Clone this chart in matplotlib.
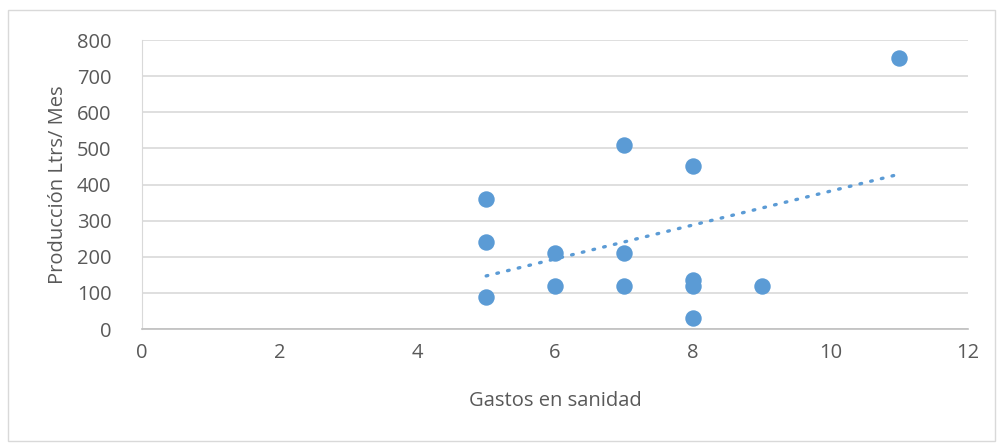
import numpy as np
import matplotlib
matplotlib.use("Agg")
import matplotlib.pyplot as plt
from matplotlib.patches import Rectangle

gastos = [5, 5, 5, 6, 6, 7, 7, 7, 8, 8, 8, 8, 9, 11]
produccion = [360, 240, 90, 210, 120, 510, 210, 120, 450, 135, 120, 30, 120, 750]
x_ticks = [0, 2, 4, 6, 8, 10, 12]
y_ticks = [0, 100, 200, 300, 400, 500, 600, 700, 800]

plt.rcParams['font.family'] = ['Open Sans', 'DejaVu Sans']
azul = '#5B9BD5'
gris_texto = '#595959'

fig = plt.figure(figsize=(10, 4.43), dpi=100)
fig.patches.append(Rectangle((0.008, 0.005), 0.987, 0.973, transform=fig.transFigure,
                             fill=False, edgecolor='#D9D9D9', linewidth=1))
ax = fig.add_axes([0.142, 0.2573, 0.826, 0.6524])

ax.scatter(gastos, produccion, s=140, color=azul, zorder=3, linewidths=0)

# linea de tendencia lineal
m, b = np.polyfit(gastos, produccion, 1)
xt = np.array([min(gastos), max(gastos)])
ax.plot(xt, m * xt + b, color=azul, linewidth=2.4, linestyle=(0, (0.5, 2.8)),
        dash_capstyle='round', zorder=2)

ax.set_xlim(0, 12)
ax.set_ylim(0, 800)
ax.set_xticks(x_ticks)
ax.set_yticks(y_ticks)
ax.grid(axis='y', color='#D9D9D9', linewidth=1.2)
ax.set_axisbelow(True)
for s in ['top', 'right']:
    ax.spines[s].set_visible(False)
ax.spines['left'].set_color('#D9D9D9')
ax.spines['bottom'].set_color('#BFBFBF')
ax.spines['bottom'].set_linewidth(1.2)
ax.tick_params(length=0, labelsize=14.5, labelcolor=gris_texto, pad=10)
ax.tick_params(axis='y', pad=22)

ax.set_xlabel('Gastos en sanidad', fontsize=14.5, color=gris_texto, labelpad=20)
ax.set_ylabel('Producción Ltrs/ Mes', fontsize=14.5, color=gris_texto, labelpad=6)

fig.savefig('out.png', dpi=100)
